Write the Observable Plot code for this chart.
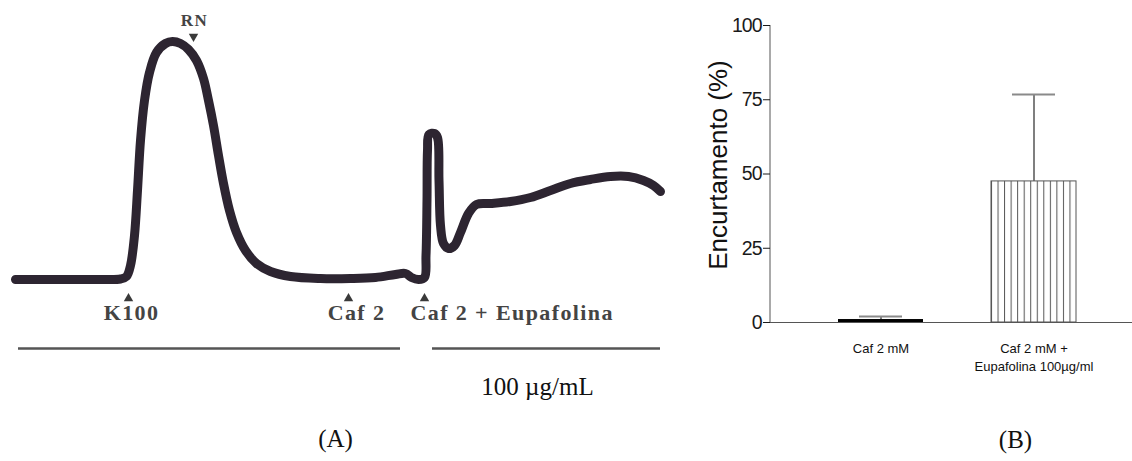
<!DOCTYPE html>
<html>
<head>
<meta charset="utf-8">
<script src="https://cdn.jsdelivr.net/npm/d3@7"></script>
<script src="https://cdn.jsdelivr.net/npm/@observablehq/plot@0.6"></script>
<style>
  body { margin: 0; background: #fff; }
  #wrap { position: relative; width: 1132px; height: 461px; overflow: hidden; background: #fff; }
  #a { position: absolute; left: 0; top: 0; }
  #b { position: absolute; left: 680px; top: 0; }
  #a g[font-weight="bold"] text { letter-spacing: 1.4px; }
  #b g[aria-label="y-axis tick label"] text { letter-spacing: -1px; }
</style>
</head>
<body>
<svg width="0" height="0" style="position:absolute">
  <defs>
    <pattern id="hatch" patternUnits="objectBoundingBox" width="0.0769231" height="1">
      <rect x="0" y="0" width="50" height="2000" fill="#fff"></rect>
      <line x1="0.5" x2="0.5" y1="0" y2="2000" stroke="#555" stroke-width="1"></line>
    </pattern>
  </defs>
</svg>
<div id="wrap"><div id="a"></div><div id="b"></div></div>
<script>
// ---------- Panel A: contraction tracing (time units, tension units above baseline) ----------
const traceX = [15, 60, 100, 120, 126, 130, 134, 137, 140, 144, 149, 156, 165, 172, 180, 188, 196, 203, 208, 213, 218, 223, 229, 236, 245, 256, 270, 290, 320, 350, 375, 395, 405, 411, 418, 424, 425.5, 426.5, 427, 428.5, 434, 437, 438.5, 440, 443, 448, 454, 460, 468, 476, 490, 510, 530, 550, 570, 590, 610, 628, 643, 653, 660];
const traceY = [1, 1, 1, 1.5, 4, 15, 45, 90, 140, 180, 208, 228, 237, 239, 237, 231, 220, 202, 180, 155, 125, 97, 70, 48, 30, 17, 9, 4, 2, 2, 3, 6, 7, 3, 1, 3, 25, 80, 130, 146, 147, 143, 100, 55, 37, 32, 35, 48, 67, 76, 77, 79, 83, 90, 97, 101, 104, 104, 100, 95, 89];
const eventLabels = ["K100", "Caf 2", "Caf 2 + Eupafolina"];
const eventX = [128, 348, 424];
const rnLabel = "RN";
const rnX = 193;
const exposureStart = [18, 432];
const exposureEnd = [400, 660];
const concentrationLabel = "100 \u00b5g/mL";
const panelALabel = "(A)";

// ---------- Panel B: bar chart ----------
const categories = ["Caf 2 mM", "Caf 2 mM +\nEupafolina 100\u00b5g/ml"];
const means = [1, 47.5];
const errors = [1, 29.3];
const yTicks = [0, 25, 50, 75, 100];
const yTitle = "Encurtamento (%)";
const panelBLabel = "(B)";

const trace = traceX.map((x, i) => ({x, y: traceY[i]}));
const events = eventLabels.map((label, i) => ({label, x: eventX[i]}));
const exposures = exposureStart.map((s, i) => ({x1: s, x2: exposureEnd[i]}));

const serif = "'Liberation Serif', 'Times New Roman', serif";
const sans = "'Liberation Sans', Arial, sans-serif";

const plotA = Plot.plot({
  width: 680, height: 461, margin: 0,
  style: {background: "transparent", fontFamily: serif},
  x: {domain: [0, 680], range: [0, 680], axis: null},
  y: {domain: [-181, 280], range: [461, 0], axis: null},
  marks: [
    Plot.line(trace, {x: "x", y: "y", stroke: "#2d2531", strokeWidth: 9, curve: "catmull-rom", strokeLinecap: "round", strokeLinejoin: "round"}),
    Plot.dot(events, {x: "x", y: -18, symbol: "triangle", r: 3.5, fill: "#3a3a3a", stroke: "none"}),
    Plot.dot([rnX], {x: d => d, y: 244, symbol: "triangle", r: 3.5, rotate: 180, fill: "#3a3a3a", stroke: "none"}),
    Plot.text([rnLabel], {x: rnX, y: 260, fontSize: 17, fontWeight: "bold", fill: "#444", dx: 1}),
    Plot.text(events.slice(0, 1), {x: "x", y: -32, text: "label", fontSize: 22, fontWeight: "bold", fill: "#444", dx: 3}),
    Plot.text(events.slice(1, 2), {x: "x", y: -32, text: "label", fontSize: 22, fontWeight: "bold", fill: "#444", dx: 8}),
    Plot.text(events.slice(2, 3), {x: "x", y: -32, text: "label", fontSize: 22, fontWeight: "bold", fill: "#444", textAnchor: "start", dx: -14}),
    Plot.ruleY(exposures, {x1: "x1", x2: "x2", y: -68, stroke: "#555", strokeWidth: 2.5}),
    Plot.text([concentrationLabel], {x: 537, y: -106, fontSize: 25, fill: "#111"}),
    Plot.text([panelALabel], {x: 335, y: -158, fontSize: 25, fill: "#111"})
  ]
});
document.getElementById("a").append(plotA);

const bars = categories.map((c, i) => ({c, m: means[i], e: means[i] + errors[i]}));

const plotB = Plot.plot({
  width: 452, height: 461,
  marginLeft: 90, marginRight: 0, marginTop: 25, marginBottom: 139,
  style: {background: "transparent", fontFamily: sans},
  x: {domain: categories, range: [90, 464], padding: 0.444},
  y: {domain: [0, 100]},
  marks: [
    Plot.ruleX(bars, {x: "c", y1: "m", y2: "e", stroke: "#555", strokeWidth: 1.5}),
    Plot.tickY(bars, {x: "c", y: "e", stroke: "#8a8a8a", strokeWidth: 2, insetLeft: 21, insetRight: 21}),
    Plot.barY(bars.slice(0, 1), {x: "c", y: "m", fill: "#000"}),
    Plot.barY(bars.slice(1, 2), {x: "c", y: "m", fill: "url(#hatch)", stroke: "#555", strokeWidth: 1}),
    Plot.ruleY([0], {stroke: "#555"}),
    (index, scales, values, dims) => {
      const l = d3.create("svg:line")
        .attr("x1", dims.marginLeft).attr("x2", dims.marginLeft)
        .attr("y1", scales.y(0)).attr("y2", scales.y(100))
        .attr("stroke", "#555");
      return l.node();
    },
    Plot.axisY({ticks: yTicks, tickSize: 7, tickPadding: 2, fontSize: 19.5, color: "#1a1a1a", label: null}),
    Plot.axisX({tickSize: 0, tickPadding: 18, fontSize: 13, lineHeight: 1.38, color: "#111", label: null}),
    Plot.text([yTitle], {frameAnchor: "left", textAnchor: "middle", lineAnchor: "middle", rotate: -90, dx: -52, dy: -9, fontSize: 26, fill: "#111"}),
    Plot.text([panelBLabel], {frameAnchor: "bottom", lineAnchor: "middle", dx: 64, dy: 117, fontSize: 25, fill: "#111", fontFamily: serif})
  ]
});
document.getElementById("b").append(plotB);
</script>
</body>
</html>
